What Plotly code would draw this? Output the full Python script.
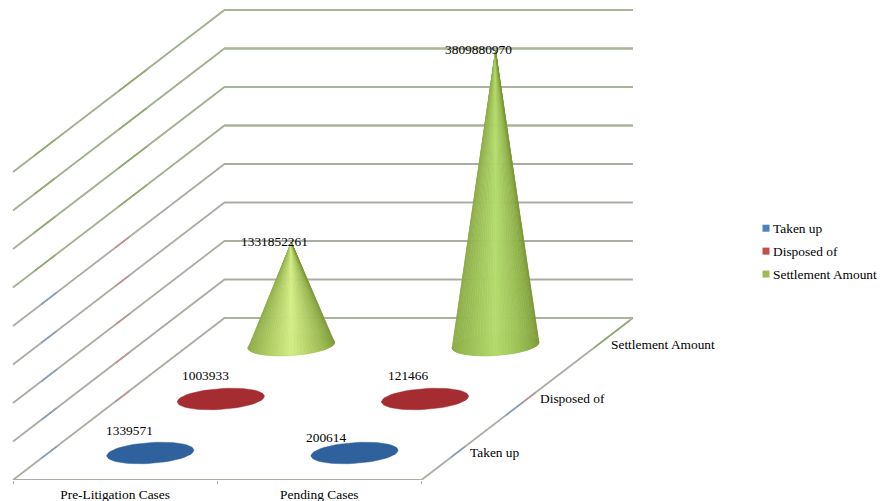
import math
import plotly.graph_objects as go

# ---- data ----
categories = ["Pre-Litigation Cases", "Pending Cases"]
series_names = ["Taken up", "Disposed of", "Settlement Amount"]
taken_up = [1339571, 200614]
disposed_of = [1003933, 121466]
settlement_amount = [1331852261, 3809880970]
value_gridlines = [0, 5e8, 1e9, 1.5e9, 2e9, 2.5e9, 3e9, 3.5e9, 4e9]

# ---- oblique 3-D projection settings ----
PX_X = 204.2                 # pixels per category
VALUE_PER_PX = 5e8 / 38.5
DEPTH_DX = 70.5 / PX_X       # x shift per series row
DEPTH_DY = 54 * VALUE_PER_PX # y shift per series row
RADIUS = 0.2                 # disc radius, in row units
A = 42.0 / PX_X
SHEAR = 0.8

BLUE, RED, GREEN = "#2f619d", "#a52c31", "#9bbb59"
LEG = ["#4f81bd", "#c0504d", "#9bbb59"]
GRID = "#a9aea3"
FONT = "Liberation Serif"
FS = 13.4


def proj(cat, depth, value=0.0):
    return cat + depth * DEPTH_DX, value + depth * DEPTH_DY


def mix(c1, c2, f):
    a = [int(c1[i:i + 2], 16) for i in (1, 3, 5)]
    b = [int(c2[i:i + 2], 16) for i in (1, 3, 5)]
    return "#%02x%02x%02x" % tuple(round(p + (q - p) * f) for p, q in zip(a, b))


def disc_point(cx, cy, t):
    b = SHEAR * RADIUS * DEPTH_DX
    c = RADIUS * DEPTH_DY
    return cx + A * math.cos(t) + b * math.sin(t), cy + c * math.sin(t)


fig = go.Figure()


def add_line(xs, ys, color=GRID, width=1.8):
    fig.add_trace(go.Scatter(x=xs, y=ys, mode="lines", showlegend=False, hoverinfo="skip",
                             line=dict(color=color, width=width), cliponaxis=False))


# walls and floor
for k, v in enumerate(value_gridlines):
    x0, y0 = proj(0, 0, v)
    x1, y1 = proj(0, 3, v)
    x2, y2 = proj(2, 3, v)
    add_line([x0, x1, x2], [y0, y1, y2], GRID if k < 5 else "#a3b08f")
    tints = [(0.4, 0.62, "#7f9cc4"), (1.45, 1.65, "#c98b8b")] if k < 5 else [(0.3, 0.6, "#8fa86a"), (1.5, 1.9, "#8fa86a")]
    for d0, d1, col in tints:
        a0, b0 = proj(0, d0, v)
        a1, b1 = proj(0, d1, v)
        add_line([a0, a1], [b0, b1], col, 1.3)
    if k >= 5 or k == 0:
        add_line([x1, x2], [y1, y2], "#a8b59b", 1.8)

# front floor edge, with its category separators
fx0, fy0 = proj(0, 0)
fx1, fy1 = proj(2, 0)
add_line([fx0, fx1], [fy0, fy1], GRID, 2)

# right floor edge
x0, y0 = proj(2, 0)
x1, y1 = proj(2, 3)
add_line([x0, x1], [y0, y1])
for d0, d1, col in [(0.42, 0.62, "#7f9cc4"), (1.2, 1.45, "#7f9cc4"), (1.45, 1.62, "#c98b8b"), (2.45, 2.95, "#8fa86a")]:
    a0, b0 = proj(2, d0)
    a1, b1 = proj(2, d1)
    add_line([a0, a1], [b0, b1], col, 1.3)

# cones
rows = [(taken_up, BLUE), (disposed_of, RED), (settlement_amount, GREEN)]
annotations = []
label_shift = {(0, 0): (-21, 22), (0, 1): (-29, 15), (1, 0): (-15, 23), (1, 1): (-17, 23),
               (2, 0): (-17, 1), (2, 1): (-17, 2)}
N = 40
t0 = math.atan2(SHEAR * RADIUS * DEPTH_DX, A)
for row, (values, color) in enumerate(rows):
    depth = row + 0.5
    for ci, val in enumerate(values):
        cx, cy = proj(ci + 0.5, depth)
        ts = [i / 60 * 2 * math.pi for i in range(61)]
        pts = [disc_point(cx, cy, t) for t in ts]
        base_col = color if row < 2 else "#8aa845"
        fig.add_trace(go.Scatter(x=[p[0] for p in pts], y=[p[1] for p in pts], mode="lines",
                                 fill="toself", fillcolor=base_col, line=dict(color=base_col, width=0.5),
                                 showlegend=False, hoverinfo="skip", cliponaxis=False))
        ax, ay = cx, cy + val
        if val > 1e8:
            peak = "#d4ee86" if val < 2e9 else "#b5dc6e"
            for i in range(N):
                a = t0 + math.pi + math.pi * i / N
                e = t0 + math.pi + math.pi * (i + 1) / N
                p = disc_point(cx, cy, a)
                q = disc_point(cx, cy, e)
                u = (i + 0.5) / N
                f = max(0.0, 1 - abs(u - 0.5) / 0.5) ** 1.3
                edge = mix("#8cab47", "#7a9835", u)
                col = mix(edge, peak, f)
                fig.add_trace(go.Scatter(x=[ax, p[0], q[0], ax], y=[ay, p[1], q[1], ay], mode="lines",
                                         fill="toself", fillcolor=col, line=dict(color=col, width=0.6),
                                         showlegend=False, hoverinfo="skip", cliponaxis=False))
        sx, sy = label_shift[(row, ci)]
        annotations.append(dict(x=ax, y=ay, xref="x", yref="y", text=str(val), showarrow=False,
                                xshift=sx, yshift=sy, font=dict(family=FONT, size=FS, color="black")))

# series labels along the right floor edge
for row, name in enumerate(series_names):
    x, y = proj(2, row + 0.5)
    annotations.append(dict(x=x, y=y, xref="x", yref="y", text=name, showarrow=False, xanchor="left",
                            xshift=11, yshift=1, font=dict(family=FONT, size=FS, color="black")))

# legend
for name, col in zip(series_names, LEG):
    fig.add_trace(go.Scatter(x=[None], y=[None], mode="markers", name=name, legendgroup=name,
                             marker=dict(symbol="square", size=7, color=col)))

fig.update_layout(
    width=880, height=501,
    margin=dict(l=0, r=0, t=0, b=21, autoexpand=False),
    paper_bgcolor="white", plot_bgcolor="white",
    font=dict(family=FONT, size=FS, color="black"),
    annotations=annotations,
    hovermode=False,
    legend=dict(x=733 / 880, xanchor="left", y=1 - 213 / 480, yanchor="top",
                font=dict(family=FONT, size=FS), tracegroupgap=2.5, bgcolor="rgba(0,0,0,0)", itemclick=False),
    xaxis=dict(range=[-13 / PX_X, 867 / PX_X], tickmode="array", tickvals=[0.5, 1.5], ticktext=categories,
               showgrid=False, zeroline=False, showline=False, ticks="", ticklabelstandoff=5,
               automargin=False,
               minor=dict(tickmode="array", tickvals=[0, 1, 2], ticks="outside", ticklen=3, tickcolor=GRID,
                          showgrid=False),
               tickfont=dict(family=FONT, size=FS)),
    yaxis=dict(range=[0, 480 * VALUE_PER_PX], visible=False),
)

# nudge the legend's swatches next to their labels, as in the reference
nudge = """
function nudgeSwatches() {
  document.querySelectorAll('.legendsymbols').forEach(function (g) {
    g.setAttribute('transform', 'translate(13,0)');
  });
}
nudgeSwatches();
setTimeout(nudgeSwatches, 60);
document.body.style.margin = '0';
"""
fig.write_html("out.html", config={"displayModeBar": False}, post_script=nudge)
